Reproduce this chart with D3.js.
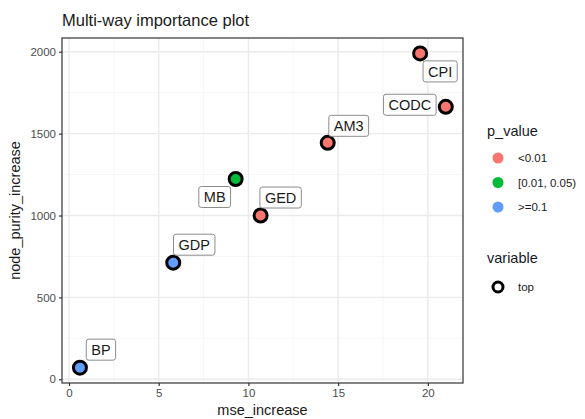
<!DOCTYPE html>
<html>
<head>
<meta charset="utf-8">
<script src="https://cdn.jsdelivr.net/npm/d3@7"></script>
<style>
  body { margin: 0; background: #fff; }
  svg { display: block; font-family: "Liberation Sans", Arial, sans-serif; }
</style>
</head>
<body>
<div id="chart"></div>
<script>
// data
const variables = ['CPI', 'CODC', 'AM3', 'MB', 'GED', 'GDP', 'BP'];
const mseIncrease = [19.57, 21.0, 14.42, 9.29, 10.68, 5.81, 0.61];
const nodePurity = [1990, 1664, 1444, 1223, 1000, 712, 71];
const pValues = ['<0.01', '<0.01', '<0.01', '[0.01, 0.05)', '<0.01', '>=0.1', '>=0.1'];

const pLevels = ['<0.01', '[0.01, 0.05)', '>=0.1'];
const pColors = ['#F8766D', '#00BA38', '#619CFF'];
const xTicks = [0, 5, 10, 15, 20];
const yTicks = [0, 500, 1000, 1500, 2000];

// where ggrepel put the labels (offset from point, px)
const labelOffset = {
  CPI: [20, 18], CODC: [-36, -2], AM3: [21, -17], MB: [-21, 18],
  GED: [20, -18], GDP: [21, -18], BP: [21, -18]
};

const data = variables.map((v, i) => ({
  name: v, x: mseIncrease[i], y: nodePurity[i], p: pValues[i]
}));

const W = 585, H = 419;
const panel = { left: 62, top: 38, right: 463, bottom: 383 };

const svg = d3.select('#chart').append('svg')
  .attr('width', W).attr('height', H);

const x = d3.scaleLinear().domain([-0.39, 21.96]).range([panel.left, panel.right]);
const y = d3.scaleLinear().domain([-22.6, 2084]).range([panel.bottom, panel.top]);
const color = d3.scaleOrdinal().domain(pLevels).range(pColors);

// grid
const grid = svg.append('g');
const xMinor = [2.5, 7.5, 12.5, 17.5];
const yMinor = [250, 750, 1250, 1750];
grid.selectAll('.xminor').data(xMinor).join('line')
  .attr('x1', d => x(d)).attr('x2', d => x(d))
  .attr('y1', panel.top).attr('y2', panel.bottom)
  .attr('stroke', '#f2f2f2').attr('stroke-width', 0.7);
grid.selectAll('.yminor').data(yMinor).join('line')
  .attr('y1', d => y(d)).attr('y2', d => y(d))
  .attr('x1', panel.left).attr('x2', panel.right)
  .attr('stroke', '#f2f2f2').attr('stroke-width', 0.7);
grid.selectAll('.xmajor').data(xTicks).join('line')
  .attr('x1', d => x(d)).attr('x2', d => x(d))
  .attr('y1', panel.top).attr('y2', panel.bottom)
  .attr('stroke', '#ebebeb').attr('stroke-width', 1.4);
grid.selectAll('.ymajor').data(yTicks).join('line')
  .attr('y1', d => y(d)).attr('y2', d => y(d))
  .attr('x1', panel.left).attr('x2', panel.right)
  .attr('stroke', '#ebebeb').attr('stroke-width', 1.4);

// axes
const xAxis = svg.append('g')
  .attr('transform', 'translate(0,' + panel.bottom + ')')
  .call(d3.axisBottom(x).tickValues(xTicks).tickFormat(d3.format('d')).tickSize(3).tickPadding(3));
const yAxis = svg.append('g')
  .attr('transform', 'translate(' + panel.left + ',0)')
  .call(d3.axisLeft(y).tickValues(yTicks).tickFormat(d3.format('d')).tickSize(3).tickPadding(3));
[xAxis, yAxis].forEach(a => {
  a.select('.domain').remove();
  a.selectAll('line').attr('stroke', '#333').attr('stroke-width', 1.2);
  a.selectAll('text').attr('fill', '#4d4d4d').style('font-size', '11.5px')
    .style('font-family', '"Liberation Sans", Arial, sans-serif');
});

// panel border
svg.append('rect')
  .attr('x', panel.left).attr('y', panel.top)
  .attr('width', panel.right - panel.left).attr('height', panel.bottom - panel.top)
  .attr('fill', 'none').attr('stroke', '#333').attr('stroke-width', 1.2);

// points
svg.append('g').selectAll('circle').data(data).join('circle')
  .attr('cx', d => x(d.x)).attr('cy', d => y(d.y)).attr('r', 6.5)
  .attr('fill', d => color(d.p)).attr('stroke', '#000').attr('stroke-width', 3);

// labels
const labels = svg.append('g').selectAll('g').data(data).join('g')
  .attr('transform', d => 'translate(' + (x(d.x) + labelOffset[d.name][0]) + ',' +
    (y(d.y) + labelOffset[d.name][1]) + ')');
labels.append('text')
  .attr('text-anchor', 'middle').attr('dy', '0.36em')
  .style('font-size', '14.5px').attr('fill', '#1a1a1a')
  .text(d => d.name);
labels.each(function () {
  const g = d3.select(this);
  const bb = g.select('text').node().getBBox();
  g.insert('rect', 'text')
    .attr('x', bb.x - 5).attr('y', -10.5)
    .attr('width', bb.width + 10).attr('height', 21)
    .attr('rx', 2.5).attr('fill', '#fff')
    .attr('stroke', '#8c8c8c').attr('stroke-width', 1);
});

// title + axis titles
svg.append('text').attr('x', panel.left).attr('y', 26)
  .style('font-size', '16.5px').attr('fill', '#1a1a1a')
  .text('Multi-way importance plot');
svg.append('text').attr('x', (panel.left + panel.right) / 2).attr('y', 415)
  .attr('text-anchor', 'middle').style('font-size', '14.5px').attr('fill', '#1a1a1a')
  .text('mse_increase');
svg.append('text')
  .attr('transform', 'translate(20,' + ((panel.top + panel.bottom) / 2) + ') rotate(-90)')
  .attr('text-anchor', 'middle').style('font-size', '14.5px').attr('fill', '#1a1a1a')
  .text('node_purity_increase');

// legend: p_value
const leg = svg.append('g').attr('transform', 'translate(487,0)');
leg.append('text').attr('x', 0).attr('y', 136)
  .style('font-size', '14.5px').attr('fill', '#1a1a1a').text('p_value');
const items = leg.selectAll('.item').data(pLevels).join('g')
  .attr('transform', (d, i) => 'translate(0,' + (158 + i * 24.5) + ')');
items.append('circle').attr('cx', 11).attr('r', 5.5).attr('fill', d => color(d));
items.append('text').attr('x', 31).attr('dy', '0.35em')
  .style('font-size', '11.5px').attr('fill', '#1a1a1a').text(d => d);

// legend: variable
leg.append('text').attr('x', 0).attr('y', 263)
  .style('font-size', '14.5px').attr('fill', '#1a1a1a').text('variable');
leg.append('circle').attr('cx', 11).attr('cy', 287).attr('r', 5)
  .attr('fill', '#fff').attr('stroke', '#000').attr('stroke-width', 3);
leg.append('text').attr('x', 31).attr('y', 287).attr('dy', '0.35em')
  .style('font-size', '11.5px').attr('fill', '#1a1a1a').text('top');
</script>
</body>
</html>
